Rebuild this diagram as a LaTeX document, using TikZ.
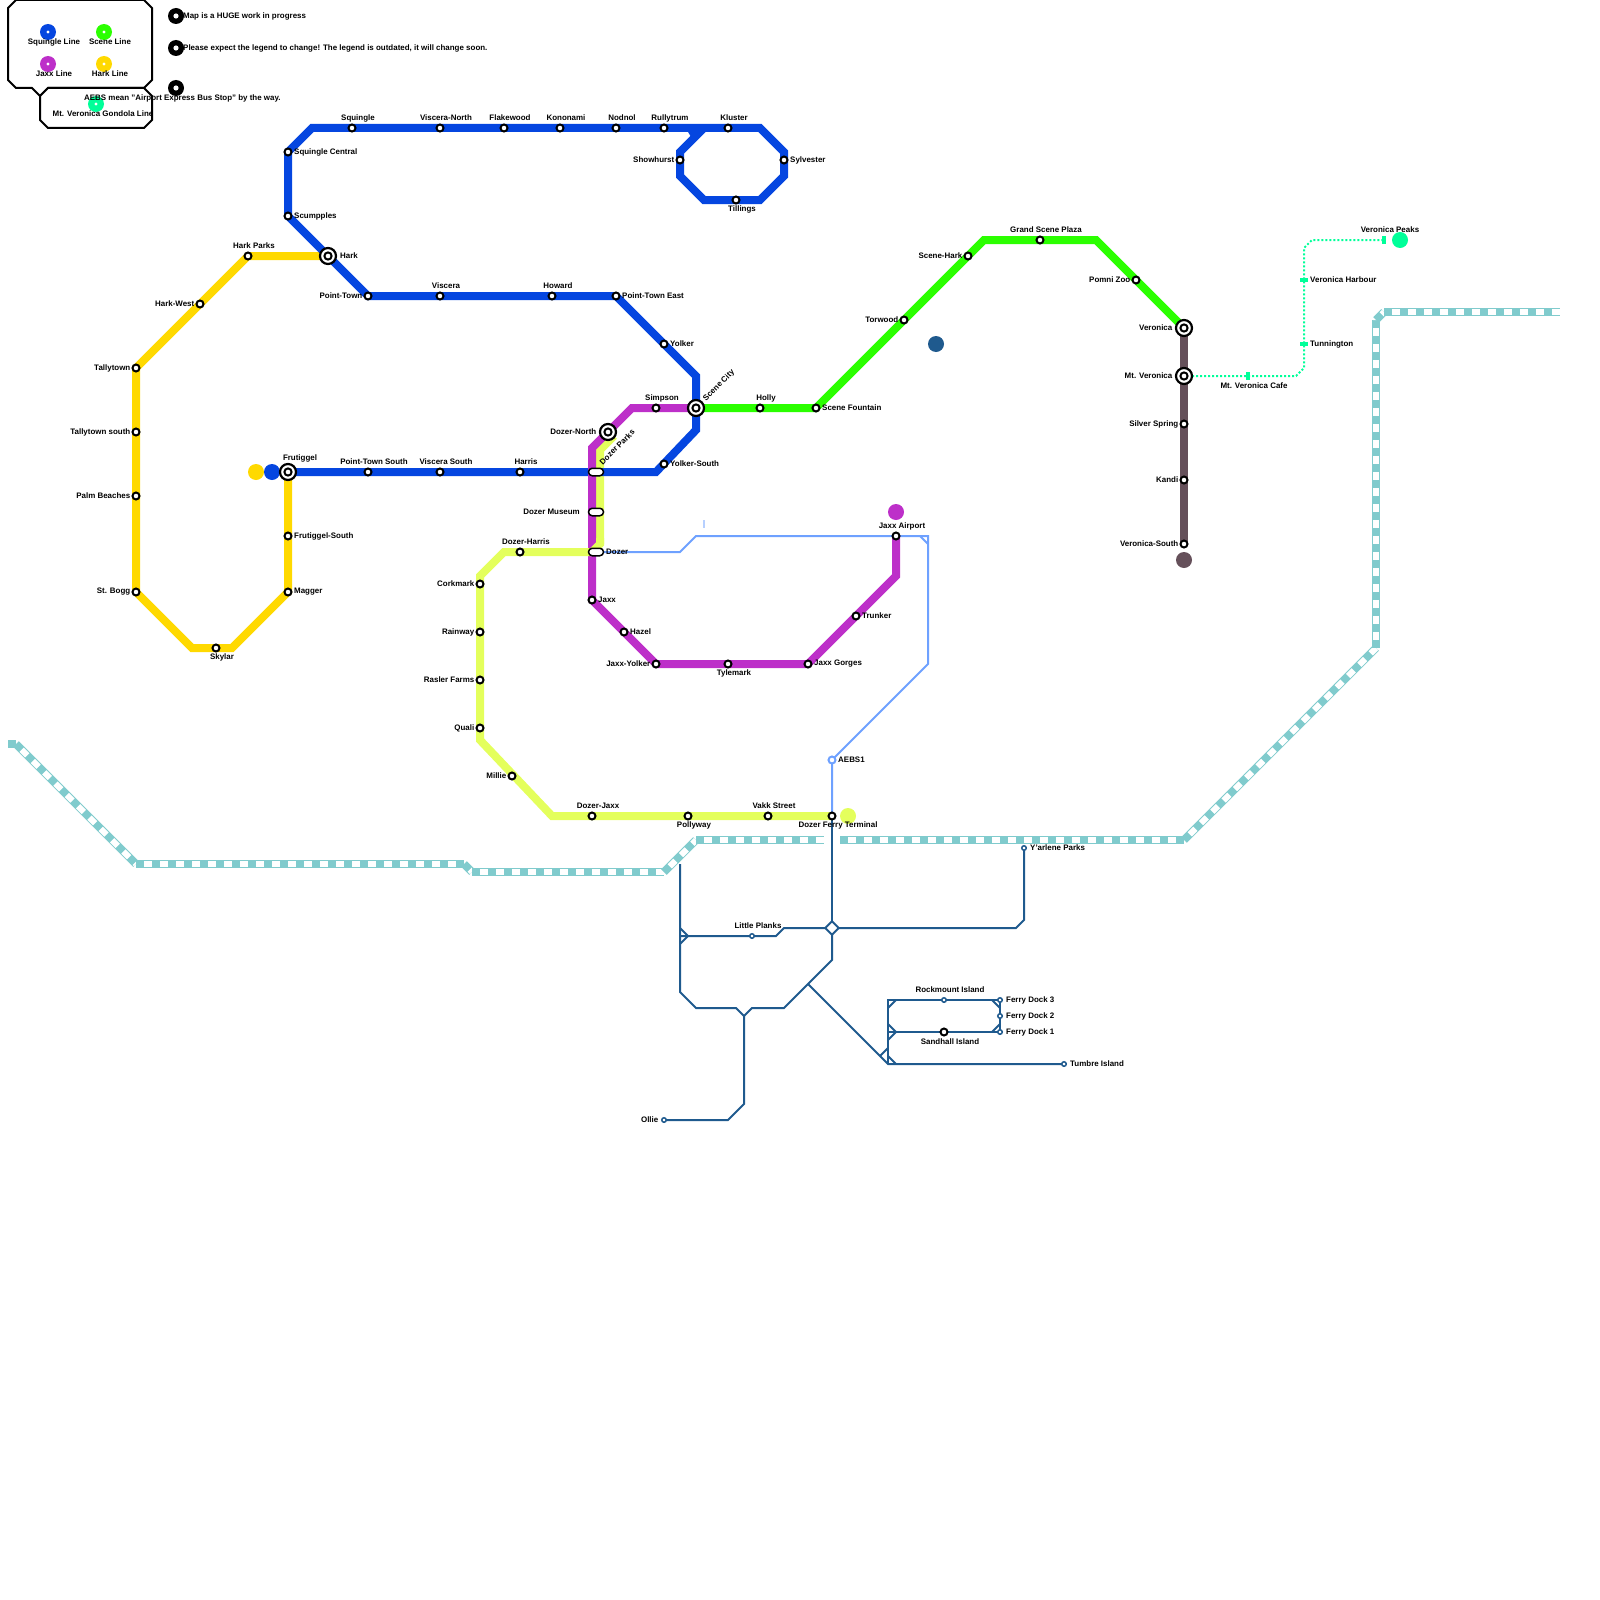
\documentclass[tikz,border=0pt]{standalone}
\usepackage{fontspec}
\setmainfont{Liberation Sans}
\pgfdeclarelayer{lines}
\pgfsetlayers{lines,main}
\definecolor{cblue}{HTML}{0546E0}
\definecolor{cgreen}{HTML}{2BFF00}
\definecolor{cpurple}{HTML}{BD2FC9}
\definecolor{cyellow}{HTML}{FFD900}
\definecolor{clime}{HTML}{E4FF5C}
\definecolor{cbrown}{HTML}{65505A}
\definecolor{cgond}{HTML}{00FF99}
\definecolor{cnavy}{HTML}{1F5A8E}
\definecolor{clight}{HTML}{6EA1FF}
\definecolor{criver}{HTML}{80CBCD}
\tikzset{
  stn/.style={circle,draw=black,fill=white,line width=2pt,minimum size=7pt,inner sep=0pt},
  smallstn/.style={circle,draw=cnavy,fill=white,line width=1.5pt,minimum size=4.5pt,inner sep=0pt},
  lightstn/.style={circle,draw=clight,fill=white,line width=2pt,minimum size=7pt,inner sep=0pt},
  hub/.style={circle,draw=black,fill=white,line width=2.2pt,minimum size=16pt,inner sep=0pt,
    path picture={\draw[line width=2pt] (path picture bounding box.center) circle (3.6pt);}},
  pill/.style={rectangle,draw=black,fill=white,line width=1.5pt,minimum width=15pt,minimum height=7.5pt,inner sep=0pt,rounded corners=3.7pt},
  lab/.style={inner sep=0pt,font=\fontsize{7.95}{9}\selectfont\bfseries,text=black},
  tdot/.style={circle,minimum size=16pt,inner sep=0pt},
  ldot/.style={circle,minimum size=16pt,inner sep=0pt,path picture={\fill[white] (path picture bounding box.center) circle (1.6pt);}},
  ndot/.style={circle,fill=black,minimum size=16pt,inner sep=0pt,path picture={\fill[white] (path picture bounding box.center) circle (2.6pt);}},
  tickv/.style={fill=cgond,minimum width=4.5pt,minimum height=8pt,inner sep=0pt},
  tickh/.style={fill=cgond,minimum width=8pt,minimum height=4.5pt,inner sep=0pt},
  metro/.style={line width=8pt},
  navy/.style={draw=cnavy,line width=2pt},
  rv/.style={draw=criver,line width=8pt},
  rvw/.style={draw=white,line width=6pt,dash pattern=on 8pt off 8pt,dash phase=8pt},
  lg/.style={draw=black,line width=2pt,fill=white},
}
% station with label: name, coordinates, text
\newcommand\stE[3]{\node[stn] (#1) at (#2) {}; \node[lab,anchor=west,xshift=6pt,yshift=0pt] (#1L) at (#1.center) {#3};}
\newcommand\stW[3]{\node[stn] (#1) at (#2) {}; \node[lab,anchor=east,xshift=-5.5pt,yshift=0pt] (#1L) at (#1.center) {#3};}
\newcommand\stN[3]{\node[stn] (#1) at (#2) {}; \node[lab,xshift=6pt,yshift=10pt] (#1L) at (#1.center) {#3};}
\newcommand\stS[3]{\node[stn] (#1) at (#2) {}; \node[lab,xshift=6pt,yshift=-9.5pt] (#1L) at (#1.center) {#3};}
\newcommand\rvseg[2]{\draw[rv] (#1) -- (#2); \draw[rvw] (#1) -- (#2);}
\begin{document}
\begin{tikzpicture}[x=1pt,y=-1pt]
\useasboundingbox (0,0) rectangle (1600,1600);

% ---- legend boxes
\draw[lg] (16,0) -- (144,0) -- (152,8) -- (152,80) -- (144,88) -- (48,88) -- (40,96) -- (32,88) -- (16,88) -- (8,80) -- (8,8) -- cycle;
\draw[lg] (40,96) -- (48,88) -- (144,88) -- (152,96) -- (152,120) -- (144,128) -- (48,128) -- (40,120) -- cycle;
\node[ldot,fill=cblue] (lgblue) at (48,32) {};
\node[ldot,fill=cgreen] (lggreen) at (104,32) {};
\node[ldot,fill=cpurple] (lgpurple) at (48,64) {};
\node[ldot,fill=cyellow] (lgyellow) at (104,64) {};
\node[ldot,fill=cgond] (lggond) at (96,104) {};
\node[lab] (lgblueL) at (54,42) {Squingle Line};
\node[lab] (lggreenL) at (110,42) {Scene Line};
\node[lab] (lgpurpleL) at (54,74) {Jaxx Line};
\node[lab] (lgyellowL) at (110,74) {Hark Line};
\node[lab] (lggondL) at (103,114) {Mt. Veronica Gondola Line};
\node[ndot] (n1) at (176,16) {};
\node[ndot] (n2) at (176,48) {};
\node[ndot] (n3) at (176,88) {};
\node[lab,anchor=west] (n1L) at (183,16) {Map is a HUGE work in progress};
\node[lab,anchor=west] (n2L) at (183,48) {Please expect the legend to change! The legend is outdated, it will change soon.};
\node[lab,anchor=west] (n3L) at (84,98) {AEBS mean "Airport Express Bus Stop" by the way.};

% ---- terminus dots
\node[tdot,fill=cyellow] (tYellow) at (256,472) {};
\node[tdot,fill=cblue] (tBlue) at (272,472) {};
\node[tdot,fill=cpurple] (tPurple) at (896,512) {};
\node[tdot,fill=cnavy] (tNavy) at (936,344) {};
\node[tdot,fill=cbrown] (tBrown) at (1184,560) {};
\node[tdot,fill=clime] (tLime) at (848,816) {};
\node[tdot,fill=cgond] (tGond) at (1400,240) {};

% ---- Squingle line stations
\stE{sqc}{288,152}{Squingle Central}
\stE{scu}{288,216}{Scumpples}
\stN{squ}{352,128}{Squingle}
\stN{vin}{440,128}{Viscera-North}
\stN{fla}{504,128}{Flakewood}
\stN{kon}{560,128}{Kononami}
\stN{nod}{616,128}{Nodnol}
\stN{rul}{664,128}{Rullytrum}
\stN{klu}{728,128}{Kluster}
\stW{sho}{680,160}{Showhurst}
\stE{syl}{784,160}{Sylvester}
\stS{til}{736,200}{Tillings}
\stW{ptw}{368,296}{Point-Town}
\stN{vis}{440,296}{Viscera}
\stN{how}{552,296}{Howard}
\stE{pte}{616,296}{Point-Town East}
\stE{yol}{664,344}{Yolker}
\stE{yos}{664,464}{Yolker-South}
\stN{pts}{368,472}{Point-Town South}
\stN{vso}{440,472}{Viscera South}
\stN{har}{520,472}{Harris}
\node[hub] (hark) at (328,256) {};
\node[lab,anchor=west] (harkL) at (340,256) {Hark};
\node[hub] (fru) at (288,472) {};
\node[lab] (fruL) at (300,458.5) {Frutiggel};
\node[hub] (sce) at (696,408) {};
\node[lab,rotate=45] (sceL) at (719,385.5) {Scene City};

% ---- Hark line stations
\stN{hkp}{248,256}{Hark Parks}
\stW{hkw}{200,304}{Hark-West}
\stW{tal}{136,368}{Tallytown}
\stW{tas}{136,432}{Tallytown south}
\stW{pal}{136,496}{Palm Beaches}
\stW{bog}{136,592}{St. Bogg}
\stS{sky}{216,648}{Skylar}
\stE{mag}{288,592}{Magger}
\stE{frs}{288,536}{Frutiggel-South}

% ---- Jaxx line stations
\node[hub] (dno) at (608,432) {};
\node[lab,anchor=east] (dnoL) at (596.5,432) {Dozer-North};
\stN{sim}{656,408}{Simpson}
\stE{jax}{592,600}{Jaxx}
\stE{haz}{624,632}{Hazel}
\stW{jyo}{656,664}{Jaxx-Yolker}
\stS{tyl}{728,664}{Tylemark}
\stE{jgo}{808,664}{Jaxx Gorges}
\stE{tru}{856,616}{Trunker}
\node[stn] (jai) at (896,536) {};
\node[lab] (jaiL) at (902,526) {Jaxx Airport};

% ---- Dozer line stations
\node[pill] (dpk) at (596,472) {};
\node[lab,rotate=45] (dpkL) at (617,447) {Dozer Parks};
\node[pill] (dmu) at (596,512) {};
\node[lab,anchor=east] (dmuL) at (580,512) {Dozer Museum};
\node[pill] (doz) at (596,552) {};
\node[lab,anchor=west] (dozL) at (606,552) {Dozer};
\stN{dha}{520,552}{Dozer-Harris}
\stW{cor}{480,584}{Corkmark}
\stW{rai}{480,632}{Rainway}
\stW{ras}{480,680}{Rasler Farms}
\stW{qua}{480,728}{Quali}
\stW{mil}{512,776}{Millie}
\stN{djx}{592,816}{Dozer-Jaxx}
\stS{pol}{688,816}{Pollyway}
\stN{vak}{768,816}{Vakk Street}
\node[stn] (dft) at (832,816) {};
\node[lab] (dftL) at (838,825.5) {Dozer Ferry Terminal};

% ---- Scene line stations
\stN{hol}{760,408}{Holly}
\stE{sfo}{816,408}{Scene Fountain}
\stW{tor}{904,320}{Torwood}
\stW{sha}{968,256}{Scene-Hark}
\stN{gsp}{1040,240}{Grand Scene Plaza}
\stW{pom}{1136,280}{Pomni Zoo}

% ---- Veronica line stations
\node[hub] (ver) at (1184,328) {};
\node[lab,anchor=east] (verL) at (1172.5,328) {Veronica};
\node[hub] (mtv) at (1184,376) {};
\node[lab,anchor=east] (mtvL) at (1172.5,376) {Mt. Veronica};
\stW{sil}{1184,424}{Silver Spring}
\stW{kan}{1184,480}{Kandi}
\stW{vso2}{1184,544}{Veronica-South}

% ---- Gondola stations
\node[tickv] (caf) at (1248,376) {};
\node[lab] (cafL) at (1254,385.5) {Mt. Veronica Cafe};
\node[tickh] (tun) at (1304,344) {};
\node[lab,anchor=west] (tunL) at (1310,344) {Tunnington};
\node[tickh] (vha) at (1304,280) {};
\node[lab,anchor=west] (vhaL) at (1310,280) {Veronica Harbour};
\node[tickv] (vpk) at (1384,240) {};
\node[lab] (vpkL) at (1390,230) {Veronica Peaks};

% ---- Navy / AEBS stations
\node[lightstn] (aeb) at (832,760) {};
\node[lab,anchor=west] (aebL) at (838,760) {AEBS1};
\node[rectangle,draw=cnavy,fill=white,line width=2pt,rotate=45,minimum size=9.5pt,inner sep=0pt] (dia) at (832,928) {};
\node[smallstn] (lpl) at (752,936) {};
\node[lab] (lplL) at (758,926) {Little Planks};
\node[smallstn] (yar) at (1024,848) {};
\node[lab,anchor=west] (yarL) at (1030,848) {Y'arlene Parks};
\node[smallstn] (oll) at (664,1120) {};
\node[lab,anchor=east] (ollL) at (658.5,1120) {Ollie};
\node[smallstn] (roc) at (944,1000) {};
\node[lab] (rocL) at (950,990) {Rockmount Island};
\node[stn] (san) at (944,1032) {};
\node[lab] (sanL) at (950,1041.5) {Sandhall Island};
\node[smallstn] (fd3) at (1000,1000) {};
\node[lab,anchor=west] (fd3L) at (1006,1000) {Ferry Dock 3};
\node[smallstn] (fd2) at (1000,1016) {};
\node[lab,anchor=west] (fd2L) at (1006,1016) {Ferry Dock 2};
\node[smallstn] (fd1) at (1000,1032) {};
\node[lab,anchor=west] (fd1L) at (1006,1032) {Ferry Dock 1};
\node[smallstn] (tum) at (1064,1064) {};
\node[lab,anchor=west] (tumL) at (1070,1064) {Tumbre Island};

% ---- free end points
\coordinate (r0) at (8,744); \coordinate (r1) at (16,744); \coordinate (r2) at (136,864);
\coordinate (r3) at (464,864); \coordinate (r4) at (472,872); \coordinate (r5) at (664,872);
\coordinate (r6) at (696,840); \coordinate (r7) at (824,840); \coordinate (r8) at (840,840);
\coordinate (r9) at (1184,840); \coordinate (r10) at (1376,648); \coordinate (r11) at (1376,320);
\coordinate (r12) at (1384,312); \coordinate (r13) at (1560,312);
\coordinate (j1) at (680,864); \coordinate (j2) at (808,984);

\begin{pgfonlayer}{lines}
% river
\rvseg{r0}{r1}\rvseg{r1}{r2}\rvseg{r2}{r3}\rvseg{r3}{r4}\rvseg{r4}{r5}\rvseg{r5}{r6}\rvseg{r6}{r7}
\rvseg{r8}{r9}\rvseg{r9}{r10}\rvseg{r10}{r11}\rvseg{r11}{r12}\rvseg{r12}{r13}
% navy network
\draw[navy] (dft.center) -- (dia.center);
\draw[navy] (dia.center) -- (832,960) -- (784,1008) -- (752,1008) -- (744,1016) -- (736,1008) -- (696,1008) -- (680,992) -- (j1);
\draw[navy] (744,1016) -- (744,1104) -- (728,1120) -- (oll.center);
\draw[navy] (680,936) -- (lpl.center) -- (776,936) -- (784,928) -- (dia.center);
\draw[navy] (680,928) -- (688,936) -- (680,944);
\draw[navy] (dia.center) -- (1016,928) -- (1024,920) -- (yar.center);
\draw[navy] (j2) -- (888,1064) -- (tum.center);
\draw[navy] (888,1064) -- (888,1000) -- (roc.center) -- (fd3.center) -- (fd2.center) -- (fd1.center) -- (san.center) -- (888,1032);
\draw[navy] (896,1000) -- (888,1008);
\draw[navy] (888,1024) -- (896,1032) -- (888,1040);
\draw[navy] (880,1056) -- (888,1048);
\draw[navy] (888,1056) -- (896,1064);
\draw[navy] (992,1000) -- (1000,1008);
\draw[navy] (992,1032) -- (1000,1024);
% AEBS line
\draw[clight,line width=2pt] (doz.center) -- (680,552) -- (696,536) -- (jai.center) -- (928,536) -- (928,664) -- (aeb.center) -- (dft.center);
\draw[clight,line width=2pt] (920,536) -- (928,544);
\draw[clight!50,line width=1.3pt] (704,520) -- (704,528);
% gondola
\draw[cgond,line width=2pt,dash pattern=on 2pt off 2pt] (mtv.center) -- (caf.center) -- (1296,376) -- (1304,368) -- (tun.center) -- (vha.center) -- (1304,248) -- (1312,240) -- (vpk.center);
% Hark
\draw[cyellow,metro] (hark.center) -- (hkp.center) -- (tal.center) -- (bog.center) -- (192,648) -- (232,648) -- (mag.center) -- (fru.center);
% Dozer upper part
\draw[clime,metro] (614,436) -- (600,450) -- (600,544);
% Squingle
\fill[cblue] (687.5,131) -- (696,131) -- (691,137) -- cycle;
\draw[cblue,metro] (704,128) -- (680,152) -- (680,176) -- (704,200) -- (760,200) -- (784,176) -- (784,152) -- (760,128) -- (312,128) -- (sqc.center) -- (scu.center) -- (hark.center) -- (ptw.center) -- (pte.center) -- (696,376) -- (696,430) -- (656,472) -- (fru.center);
% Jaxx
\draw[cpurple,metro] (sce.center) -- (632,408) -- (592,448) -- (592,600) -- (jyo.center) -- (jgo.center) -- (896,576) -- (jai.center);
% Dozer lower part
\draw[clime,metro] (600,538) -- (600,544) -- (592,552) -- (504,552) -- (480,576) -- (480,740) -- (552,816) -- (dft.center);
% Scene
\draw[cgreen,metro] (sce.center) -- (sfo.center) -- (984,240) -- (1096,240) -- (ver.center);
% Veronica
\draw[cbrown,metro] (ver.center) -- (vso2.center);
\end{pgfonlayer}
\end{tikzpicture}
\end{document}
